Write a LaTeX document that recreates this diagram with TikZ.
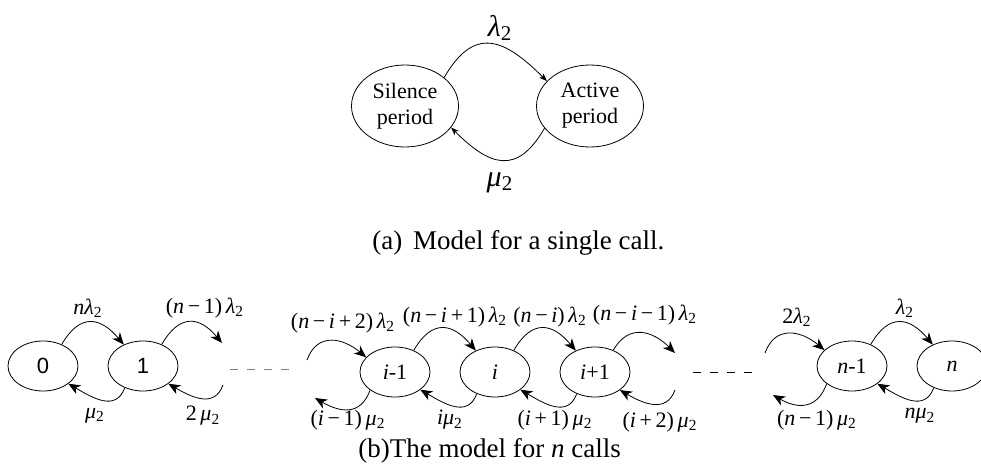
\documentclass[tikz,border=0pt]{standalone}
\usepackage{fontspec}
\setmainfont{Liberation Serif}[
	ItalicFont = {Liberation Serif Italic}]
\setsansfont{Liberation Sans}
\usetikzlibrary{shapes.geometric}
\usetikzlibrary{arrows.meta}
% rate symbols set in the text font
\newcommand{\vn}{\textit{n}}
\newcommand{\vi}{\textit{i}}
\newcommand{\lamtwo}{\textit{λ}\textsubscript{2}}
\newcommand{\mutwo}{\textit{μ}\textsubscript{2}}
\newcommand{\mns}{\,−\,}
\newcommand{\pls}{\,+\,}
\tikzset{
	node_s/.style = {
		ellipse,
		draw=black,
		inner sep=0pt,
		minimum width=35pt,
		minimum height=25pt,
		font=\fontsize{11}{13}\selectfont
	},
	node_big/.style = {
		node_s,
		align=center,
		minimum width=53.5pt,
		minimum height=41pt
	},
	rate/.style = {
		inner sep=0pt,
		font=\fontsize{11}{13}\selectfont
	},
	rate_big/.style = {
		rate,
		font=\fontsize{15}{17}\selectfont
	},
	caption/.style = {
		inner sep=0pt,
		anchor=west,
		font=\fontsize{13.5}{16}\selectfont
	},
	arr/.style = {
		-{Stealth[length=6pt,width=5pt,inset=1.8pt]}
	},
	arr_small/.style = {
		-{Stealth[length=4pt,width=3pt,inset=1.2pt]}
	},
	arc_up/.style = {
		arr,
		out=60, in=130, looseness=1.5
	},
	arc_down/.style = {
		arr,
		out=-110, in=-30, looseness=1.2
	},
	gap/.style = {
		dash pattern=on 4pt off 4.5pt
	}
}
\begin{document}
\begin{tikzpicture}[x=0.5pt, y=0.5pt]
\useasboundingbox (0,0) rectangle (981,472);

% (a) single call
\node [node_big] (sil) at (405,366) {Silence\\period};
\node [node_big] (act) at (590,366) {Active\\period};
\draw [arr_small] (sil.36) to[out=60, in=135, looseness=1.5] (act.150);
\draw [arr_small] (act.206) to[out=-120, in=-45, looseness=1.5] (sil.-25);
\node [rate_big] (lam) at (500,444) {\lamtwo};
\node [rate_big] (mu) at (500,289) {\mutwo};
\node [caption] (capa) at (372,229) {(a)\hspace{0.4em}Model for a single call.};

% (b) n calls
\node [node_s] (s0) at (43,106) {\sffamily 0};
\node [node_s] (s1) at (143,106) {\sffamily 1};
\node [node_s] (si1) at (395,100) {\vi-1};
\node [node_s] (si) at (495,100) {\vi};
\node [node_s] (sip) at (595,100) {\vi+1};
\node [node_s] (sn1) at (852,106) {\vn-1};
\node [node_s] (sn) at (952,106) {\vn};

\coordinate (a1) at (222,129);
\coordinate (b1) at (223,87);
\coordinate (a2) at (307,112);
\coordinate (b2) at (315,74);
\coordinate (a3) at (675,119);
\coordinate (b3) at (675,82);
\coordinate (a4) at (765,119);
\coordinate (b4) at (773,77);

\coordinate (d1) at (230,103);
\coordinate (d2) at (292,103);
\coordinate (d3) at (693,100);
\coordinate (d4) at (757,100);
\draw [gap, gray] (d1) -- (d2);
\draw [gap] (d3) -- (d4);

% forward rates
\draw [arc_up] (s0.49) to (s1.132);
\draw [arc_up] (s1.49) to (a1);
\draw [arr] (a2) to[out=70, in=140, looseness=1.3] (si1.153);
\draw [arc_up] (si1.49) to (si.132);
\draw [arc_up] (si.49) to (sip.132);
\draw [arr] (sip.50) to[out=60, in=135, looseness=1.3] (a3);
\draw [arr] (a4) to[out=70, in=140, looseness=1.3] (sn1.150);
\draw [arc_up] (sn1.49) to (sn.132);

% backward rates
\draw [arc_down] (s1.230) to (s0.-35);
\draw [arc_down] (b1) to (s1.-35);
\draw [arr] (si1.216) to[out=-110, in=-30, looseness=1.3] (b2);
\draw [arc_down] (si.230) to (si1.-35);
\draw [arc_down] (sip.230) to (si.-35);
\draw [arc_down] (b3) to (sip.-36);
\draw [arr] (sn1.215) to[out=-110, in=-30, looseness=1.3] (b4);
\draw [arc_down] (sn.230) to (sn1.-35);

% rate labels
\node [rate] (l01) at (88,164) {\vn\lamtwo};
\node [rate] (l12) at (205,164) {(\vn\mns1)\,\lamtwo};
\node [rate] (m01) at (95,56) {\mutwo};
\node [rate] (m12) at (203,56) {2\,\mutwo};
\node [rate] (li1) at (343,149) {(\vn\mns\vi\pls2)\,\lamtwo};
\node [rate] (li) at (455,155) {(\vn\mns\vi\pls1)\,\lamtwo};
\node [rate] (lip) at (550,155) {(\vn\mns\vi)\,\lamtwo};
\node [rate] (lipp) at (645,157) {(\vn\mns\vi\mns1)\,\lamtwo};
\node [rate] (mi1) at (348,52) {(\vi\mns1)\,\mutwo};
\node [rate] (mi) at (450,52) {\vi\mutwo};
\node [rate] (mip) at (555,52) {(\vi\pls1)\,\mutwo};
\node [rate] (mipp) at (660,50) {(\vi\pls2)\,\mutwo};
\node [rate] (ln1) at (797,155) {2\lamtwo};
\node [rate] (ln) at (905,164) {\lamtwo};
\node [rate] (mn1) at (817,52) {(\vn\mns1)\,\mutwo};
\node [rate] (mn) at (920,56) {\vn\mutwo};
\node [caption] (capb) at (358,21) {(b)The model for \vn{} calls};
\end{tikzpicture}
\end{document}
